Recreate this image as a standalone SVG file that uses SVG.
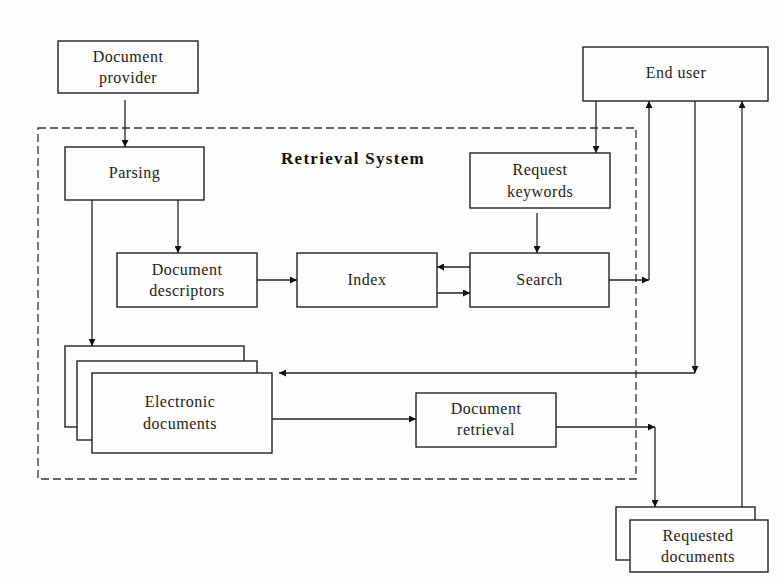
<svg xmlns="http://www.w3.org/2000/svg" width="781" height="585" viewBox="0 0 781 585">
<style>
.box{fill:#fdfefc;stroke:#222;stroke-width:1.4}
.ln{fill:none;stroke:#222;stroke-width:1.3}
.lbl{font-family:"Liberation Serif","Times New Roman",serif;font-size:16px;letter-spacing:0.5px;fill:#222;text-anchor:middle}
.ttl{font-family:"Liberation Serif","Times New Roman",serif;font-size:17px;font-weight:bold;letter-spacing:1.3px;fill:#111;text-anchor:middle}
</style>
<defs>
<marker id="ah" viewBox="0 0 10 10" refX="10" refY="5" markerWidth="7" markerHeight="7" markerUnits="userSpaceOnUse" orient="auto">
<path d="M0,0 L10,5 L0,10 z" fill="#111"/>
</marker>
</defs>
<rect width="781" height="585" fill="#fdfefc"/>
<rect x="38" y="128" width="598" height="351" fill="none" stroke="#333" stroke-width="1.3" stroke-dasharray="8,4"/>
<text class="ttl" x="353" y="164">Retrieval System</text>

<g id="doc-provider"><rect class="box" x="58" y="41" width="140" height="52"/><text class="lbl" x="128" y="62">Document</text><text class="lbl" x="128" y="83">provider</text></g>
<g id="parsing"><rect class="box" x="65" y="147" width="139" height="53"/><text class="lbl" x="134.5" y="178">Parsing</text></g>
<g id="end-user"><rect class="box" x="583" y="47" width="185" height="54"/><text class="lbl" x="676" y="78">End user</text></g>
<g id="request-keywords"><rect class="box" x="470" y="153" width="140" height="55"/><text class="lbl" x="540" y="175">Request</text><text class="lbl" x="540" y="197">keywords</text></g>
<g id="doc-descriptors"><rect class="box" x="117" y="253" width="140" height="54"/><text class="lbl" x="187" y="275">Document</text><text class="lbl" x="187" y="296">descriptors</text></g>
<g id="index"><rect class="box" x="297" y="253" width="140" height="54"/><text class="lbl" x="367" y="285">Index</text></g>
<g id="search"><rect class="box" x="470" y="253" width="139" height="54"/><text class="lbl" x="539.5" y="285">Search</text></g>
<g id="electronic-docs">
<rect class="box" x="65" y="346" width="179" height="81"/>
<rect class="box" x="77" y="361" width="180" height="79"/>
<rect class="box" x="92" y="373" width="180" height="80"/>
<text class="lbl" x="180" y="407">Electronic</text><text class="lbl" x="180" y="429">documents</text></g>
<g id="doc-retrieval"><rect class="box" x="416" y="393" width="140" height="54"/><text class="lbl" x="486" y="414">Document</text><text class="lbl" x="486" y="435">retrieval</text></g>
<g id="requested-docs">
<rect class="box" x="616" y="507" width="139" height="53"/>
<rect class="box" x="630" y="520" width="138" height="52"/>
<text class="lbl" x="698" y="541">Requested</text><text class="lbl" x="698" y="562">documents</text></g>

<g id="connectors">
<path class="ln" d="M125,100 V147" marker-end="url(#ah)"/>
<path class="ln" d="M178,200 V253" marker-end="url(#ah)"/>
<path class="ln" d="M92,200 V346" marker-end="url(#ah)"/>
<path class="ln" d="M257,280 H297" marker-end="url(#ah)"/>
<path class="ln" d="M470,267 H437" marker-end="url(#ah)"/>
<path class="ln" d="M437,293 H470" marker-end="url(#ah)"/>
<path class="ln" d="M537,213 V253" marker-end="url(#ah)"/>
<path class="ln" d="M596,101 V153" marker-end="url(#ah)"/>
<path class="ln" d="M609,280 H649" marker-end="url(#ah)"/>
<path class="ln" d="M649,280 V101" marker-end="url(#ah)"/>
<path class="ln" d="M695,101 V373" marker-end="url(#ah)"/>
<path class="ln" d="M695,373 H279" marker-end="url(#ah)"/>
<path class="ln" d="M272,419 H416" marker-end="url(#ah)"/>
<path class="ln" d="M556,427 H655" marker-end="url(#ah)"/>
<path class="ln" d="M655,427 V507" marker-end="url(#ah)"/>
<path class="ln" d="M742,507 V101" marker-end="url(#ah)"/>
</g>
</svg>
